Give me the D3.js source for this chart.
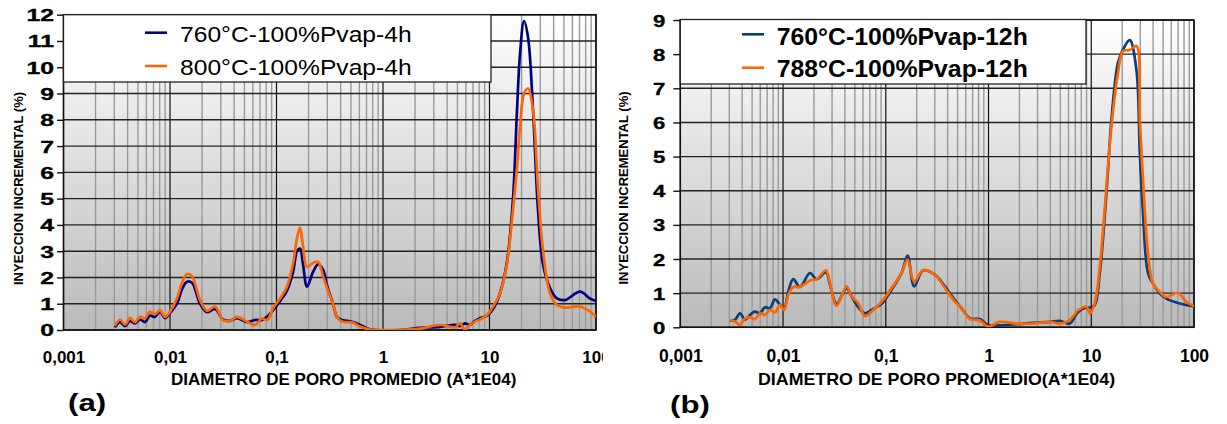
<!DOCTYPE html>
<html>
<head>
<meta charset="utf-8">
<script src="https://cdn.jsdelivr.net/npm/d3@7/dist/d3.min.js"></script>
<style>
  body { margin: 0; background: #fff; }
  svg { display: block; }
</style>
</head>
<body>
<div id="container"></div>
<script>
// ---- data ----
const xTickValues = [0.001, 0.01, 0.1, 1, 10, 100];
const xTickLabels = ["0,001", "0,01", "0,1", "1", "10", "100"];
const yTicksA = [0, 1, 2, 3, 4, 5, 6, 7, 8, 9, 10, 11, 12];
const yTicksB = [0, 1, 2, 3, 4, 5, 6, 7, 8, 9];

// chart (a)
const namesA = ["760°C-100%Pvap-4h", "800°C-100%Pvap-4h"];
const diamA = [0.00304, 0.00339, 0.00378, 0.00421, 0.00469, 0.00523, 0.00583, 0.00649, 0.00723, 0.00806,
  0.00898, 0.0100, 0.01163, 0.01296, 0.01444, 0.01609, 0.01913, 0.02226, 0.02646, 0.03145,
  0.0366, 0.04257, 0.05284, 0.06283, 0.07308, 0.08142, 0.09271, 0.1079, 0.1255, 0.1429,
  0.1558, 0.1662, 0.1774, 0.1934, 0.2201, 0.2453, 0.2733, 0.298, 0.3393, 0.37,
  0.4121, 0.4592, 0.5227, 0.6083, 0.7551, 1.444, 2.226, 3.43, 4.744, 5.284,
  5.888, 6.56, 7.309, 8.142, 9.475, 10.79, 12.55, 14.6, 16.62, 18.13,
  19.34, 21.09, 22.99, 25.62, 28.54, 31.79, 37.0, 43.03, 51.17, 70.76,
  87.85, 100];
const a760 = [0.1, 0.3, 0.15, 0.35, 0.25, 0.4, 0.3, 0.55, 0.5, 0.7,
  0.45, 0.65, 1.0, 1.55, 1.84, 1.8, 1.0, 0.68, 0.8, 0.4,
  0.35, 0.45, 0.3, 0.38, 0.38, 0.5, 0.75, 1.1, 1.5, 2.2,
  3.0, 3.1, 2.5, 1.65, 2.2, 2.5, 2.3, 1.7, 1.0, 0.5,
  0.38, 0.35, 0.3, 0.2, 0.03, 0, 0.08, 0.12, 0.2, 0.15,
  0.25, 0.2, 0.35, 0.45, 0.55, 0.8, 1.4, 2.6, 5.0, 8.37,
  10.5, 11.76, 11.15, 8.37, 4.56, 2.5, 1.6, 1.2, 1.14, 1.46,
  1.2, 1.1];
const a800 = [0.15, 0.4, 0.2, 0.45, 0.3, 0.5, 0.45, 0.7, 0.6, 0.75,
  0.5, 0.7, 1.2, 1.8, 2.13, 2.05, 1.14, 0.73, 0.89, 0.38,
  0.35, 0.5, 0.32, 0.19, 0.44, 0.38, 0.82, 1.2, 1.65, 2.53,
  3.5, 3.9, 3.2, 2.4, 2.55, 2.6, 2.05, 1.6, 1.0, 0.5,
  0.32, 0.3, 0.28, 0.13, 0.02, 0, 0.05, 0.19, 0.1, 0.25,
  0, 0.2, 0.32, 0.4, 0.57, 0.89, 1.39, 2.53, 4.56, 6.2,
  7.73, 9.0, 9.19, 8.37, 5.4, 3.04, 1.39, 0.95, 0.85, 0.89,
  0.7, 0.5];

// chart (b)
const namesB = ["760°C-100%Pvap-12h", "788°C-100%Pvap-12h"];
const diamB = [0.003045, 0.003405, 0.003808, 0.004259, 0.004764, 0.005329, 0.005961, 0.006668, 0.007459, 0.008343,
  0.009329, 0.01027, 0.01124, 0.01257, 0.0146, 0.01827, 0.02123, 0.02615, 0.0286, 0.03322,
  0.04156, 0.04649, 0.0539, 0.06261, 0.07278, 0.09104, 0.1139, 0.1424, 0.163, 0.1889,
  0.2311, 0.3004, 0.3757, 0.4701, 0.5462, 0.6578, 0.8231, 0.9911, 1.288, 1.873,
  2.716, 3.945, 4.94, 6.18, 7.45, 8.98, 9.67, 10.81, 12.1, 14.06,
  15.72, 18.2, 20.4, 23.7, 27.5, 29.7, 31.9, 35.7, 39.9, 46.4,
  53.8, 69.8, 84.3, 100];
const b760 = [0.2, 0.22, 0.41, 0.22, 0.36, 0.46, 0.41, 0.59, 0.56, 0.82,
  0.66, 0.56, 1.05, 1.41, 1.18, 1.59, 1.41, 1.61, 1.25, 0.69,
  1.15, 0.9, 0.59, 0.41, 0.51, 0.69, 1.1, 1.59, 2.1, 1.2,
  1.67, 1.54, 1.2, 0.8, 0.56, 0.26, 0.24, 0.07, 0.06, 0.09,
  0.13, 0.16, 0.19, 0.11, 0.45, 0.58, 0.58, 0.65, 1.58, 3.93,
  6.08, 7.75, 8.14, 8.41, 7.55, 5.1, 3.34, 1.58, 1.28, 0.99,
  0.84, 0.71, 0.65, 0.62];
const b788 = [0.22, 0.17, 0.07, 0.26, 0.29, 0.24, 0.41, 0.36, 0.51, 0.43,
  0.66, 0.51, 0.95, 1.18, 1.18, 1.37, 1.41, 1.67, 1.29, 0.63,
  1.2, 0.9, 0.71, 0.33, 0.46, 0.75, 1.15, 1.59, 1.98, 1.34,
  1.67, 1.54, 1.15, 0.75, 0.56, 0.24, 0.2, 0.02, 0.16, 0.11,
  0.11, 0.16, 0.11, 0.21, 0.5, 0.6, 0.4, 0.7, 1.77, 4.12,
  5.89, 7.45, 8.09, 8.12, 8.24, 6.08, 4.32, 2.16, 1.28, 1.04,
  0.89, 1.01, 0.74, 0.62];

// ---- drawing ----
const svg = d3.select("#container")
  .append("svg")
  .attr("width", 1227)
  .attr("height", 424)
  .style("font-family", "'Liberation Sans', Arial, sans-serif");

const defs = svg.append("defs");
let grad = defs.append("linearGradient")
  .attr("id", "plotbg")
  .attr("x1", 0).attr("y1", 0).attr("x2", 0).attr("y2", 1);
grad.append("stop").attr("offset", "0%").attr("stop-color", "#ffffff");
grad.append("stop").attr("offset", "100%").attr("stop-color", "#bababa");

// text with horizontal stretch (the source picture is squashed)
let addText = (g, x, y, txt, size, weight, anchor, sx, rot) => {
  return g.append("text")
    .attr("transform", `translate(${x},${y}) rotate(${rot || 0}) scale(${sx},1)`)
    .attr("text-anchor", anchor)
    .attr("font-size", size)
    .attr("font-weight", weight)
    .attr("fill", "#000")
    .text(txt);
}

let drawChart = (cfg) => {
  let g = svg.append("g").attr("clip-path", cfg.clip ? `url(#${cfg.clip})` : null);

  let x = d3.scaleLog().domain([0.001, 100]).range([cfg.left, cfg.right]);
  let y = d3.scaleLinear().domain([0, cfg.yMax]).range([cfg.bottom, cfg.top]);

  g.append("rect")
    .attr("x", cfg.left).attr("y", cfg.top)
    .attr("width", cfg.right - cfg.left).attr("height", cfg.bottom - cfg.top)
    .attr("fill", "url(#plotbg)");

  // minor vertical grid
  let minor = [];
  xTickValues.slice(0, -1).forEach(d => {
    for (let m = 2; m <= 9; m++) minor.push(d * m);
  });
  g.append("g").selectAll("line").data(minor).join("line")
    .attr("x1", d => x(d)).attr("x2", d => x(d))
    .attr("y1", cfg.top).attr("y2", cfg.bottom)
    .attr("stroke", "#9a9a9a").attr("stroke-width", 1.4);

  // major vertical grid
  g.append("g").selectAll("line").data(xTickValues).join("line")
    .attr("x1", d => x(d)).attr("x2", d => x(d))
    .attr("y1", cfg.top).attr("y2", cfg.bottom)
    .attr("stroke", "#111").attr("stroke-width", 1.2);

  // horizontal grid
  g.append("g").selectAll("line").data(cfg.yTicks).join("line")
    .attr("x1", cfg.left).attr("x2", cfg.right)
    .attr("y1", d => y(d)).attr("y2", d => y(d))
    .attr("stroke", "#222").attr("stroke-width", 1.4);

  // y axis
  let yAxis = g.append("g")
    .attr("transform", `translate(${cfg.left},0)`)
    .call(d3.axisLeft(y).tickValues(cfg.yTicks).tickSize(cfg.tickLen).tickFormat(d3.format("d")));
  yAxis.select(".domain").remove();
  yAxis.selectAll(".tick line").attr("stroke", "#111").attr("stroke-width", 1.4);
  yAxis.selectAll(".tick text")
    .attr("x", -cfg.yLabGap / cfg.yLabSx)
    .attr("dy", "0.36em")
    .attr("transform", `scale(${cfg.yLabSx},1)`)
    .attr("font-size", cfg.yLabSize)
    .attr("font-weight", "bold")
    .attr("font-family", "'Liberation Sans', Arial, sans-serif")
    .attr("fill", "#000")
    .attr("stroke", "#000")
    .attr("stroke-width", 0.35);

  // x axis labels
  let xAxis = g.append("g")
    .attr("transform", `translate(0,${cfg.bottom})`)
    .call(d3.axisBottom(x).tickValues(xTickValues).tickSize(0)
      .tickFormat((d, i) => xTickLabels[i]));
  xAxis.select(".domain").remove();
  xAxis.selectAll(".tick text")
    .attr("y", cfg.xLabOff)
    .attr("dy", 0)
    .attr("font-size", cfg.xLabSize)
    .attr("font-weight", "bold")
    .attr("font-family", "'Liberation Sans', Arial, sans-serif")
    .attr("fill", "#000");

  // frame
  g.append("rect")
    .attr("x", cfg.left).attr("y", cfg.top)
    .attr("width", cfg.right - cfg.left).attr("height", cfg.bottom - cfg.top)
    .attr("fill", "none").attr("stroke", "#111").attr("stroke-width", 1.5);

  // series
  let clipId = cfg.id + "-plot";
  defs.append("clipPath").attr("id", clipId).append("rect")
    .attr("x", cfg.left).attr("y", cfg.top - 2)
    .attr("width", cfg.right - cfg.left).attr("height", cfg.bottom - cfg.top + 2);

  let line = d3.line()
    .x((d, i) => x(cfg.diam[i]))
    .y(d => y(d))
    .curve(d3.curveCatmullRom.alpha(0.5));

  let plot = g.append("g").attr("clip-path", `url(#${clipId})`);
  cfg.series.forEach((s, k) => {
    plot.append("path")
      .datum(s)
      .attr("d", line)
      .attr("fill", "none")
      .attr("stroke", cfg.colors[k])
      .attr("stroke-width", 2.7)
      .attr("stroke-linejoin", "round");
  });

  // legend
  let lg = cfg.legend;
  g.append("rect")
    .attr("x", cfg.left).attr("y", lg.y1)
    .attr("width", lg.x2 - cfg.left).attr("height", lg.y2 - lg.y1)
    .attr("fill", "#fff").attr("stroke", "#222").attr("stroke-width", 1.3);
  cfg.names.forEach((n, k) => {
    g.append("line")
      .attr("x1", lg.lx1).attr("x2", lg.lx2)
      .attr("y1", lg.rows[k]).attr("y2", lg.rows[k])
      .attr("stroke", cfg.colors[k]).attr("stroke-width", 2.6);
    addText(g, lg.tx, lg.base[k], n, lg.size, lg.weight, "start", lg.sx);
  });

  // titles
  addText(g, cfg.yTitle.x, cfg.yTitle.y, "INYECCION INCREMENTAL (%)", 13, "bold", "middle", 1, -90);
  addText(g, cfg.xTitle.x, cfg.xTitle.y, cfg.xTitle.text, cfg.xTitle.size, "bold", "start", cfg.xTitle.sx);
  addText(g, cfg.tag.x, cfg.tag.y, cfg.tag.text, 24, "bold", "start", 1.3);
}

defs.append("clipPath").attr("id", "leftHalf").append("rect")
  .attr("x", 0).attr("y", 0).attr("width", 603).attr("height", 424);

drawChart({
  id: "a", clip: "leftHalf",
  left: 63.5, right: 596, top: 14.7, bottom: 330, yMax: 12, yTicks: yTicksA,
  tickLen: 6.5, yLabGap: 9.5, yLabSx: 1.5, yLabSize: 16.5,
  xLabOff: 33, xLabSize: 17,
  diam: diamA, series: [a760, a800], names: namesA,
  colors: ["#000080", "#ff6600"],
  legend: { x2: 491, y1: 14.7, y2: 82, lx1: 145, lx2: 167, rows: [32.7, 66], tx: 180, base: [42, 74.5], size: 22, weight: "normal", sx: 1.12 },
  yTitle: { x: 23, y: 188.5 },
  xTitle: { x: 171, y: 385, text: "DIAMETRO DE PORO PROMEDIO (A*1E04)", size: 16.5, sx: 1.03 },
  tag: { x: 68, y: 411, text: "(a)" }
});

drawChart({
  id: "b",
  left: 680.3, right: 1194, top: 20, bottom: 327.3, yMax: 9, yTicks: yTicksB,
  tickLen: 7, yLabGap: 15, yLabSx: 1.3, yLabSize: 17,
  xLabOff: 35, xLabSize: 17.5,
  diam: diamB, series: [b760, b788], names: namesB,
  colors: ["#0d3d78", "#ff6600"],
  legend: { x2: 1086, y1: 19.5, y2: 84, lx1: 742, lx2: 764, rows: [34.3, 67.7], tx: 776.7, base: [45, 77], size: 23.3, weight: "bold", sx: 1.065 },
  yTitle: { x: 628, y: 188 },
  xTitle: { x: 758, y: 385, text: "DIAMETRO DE PORO PROMEDIO(A*1E04)", size: 16.5, sx: 1.08 },
  tag: { x: 670, y: 413, text: "(b)" }
});
</script>
</body>
</html>
